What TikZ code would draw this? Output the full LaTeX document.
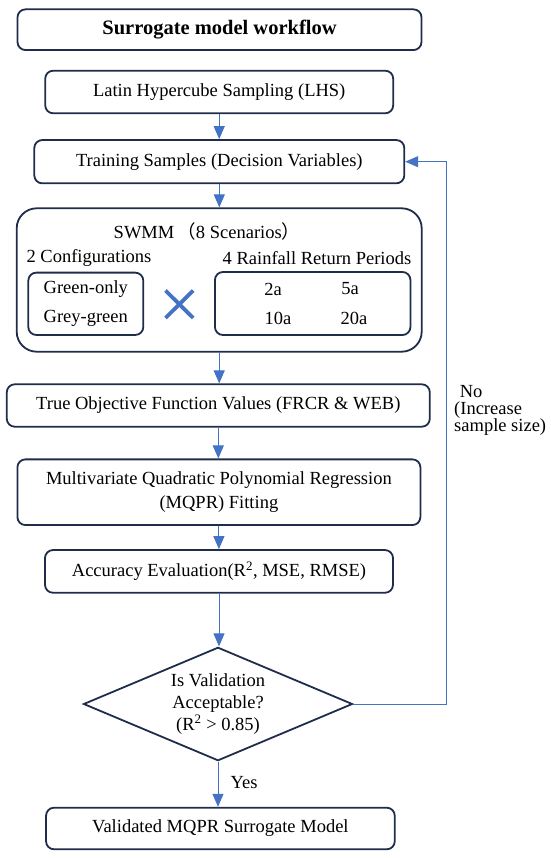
\documentclass[tikz,border=0pt]{standalone}
\usepackage{fontspec}
\setmainfont{Liberation Serif}
\newfontfamily\cjkfont{Noto Sans CJK SC}
\usetikzlibrary{shapes.geometric,arrows.meta}
\definecolor{navy}{RGB}{31,45,75}
\definecolor{flowblue}{RGB}{68,114,196}
\begin{document}
\begin{tikzpicture}[x=1pt,y=-1pt,
  box/.style={draw=navy,line width=1.8pt,rounded corners=8pt,inner sep=0pt,align=center,
    font=\fontsize{18.5}{24.3}\selectfont},
  txt/.style={inner sep=0pt,font=\fontsize{18.5}{22}\selectfont},
  arr/.style={draw=flowblue,line width=1pt,-{Triangle[length=13pt,width=11pt]}}]
\useasboundingbox (0,0) rectangle (550,858);

% main boxes
\node[box,minimum width=404pt,minimum height=40.7pt,font=\fontsize{20.5}{24}\selectfont\bfseries] (title) at (219.5,29.7) {Surrogate model workflow};
\node[box,minimum width=348pt,minimum height=42.6pt] (lhs) at (219.2,92) {Latin Hypercube Sampling (LHS)};
\node[box,minimum width=370pt,minimum height=43.3pt] (train) at (219.3,161.7) {Training Samples (Decision Variables)};

% SWMM block
\node[box,rounded corners=20pt,minimum width=405pt,minimum height=143.4pt] (swmm) at (219.2,280) {};
\node[txt] (swmmlbl) at (207,231) {SWMM\,{\cjkfont （}8 Scenarios{\cjkfont ）}};
\node[txt] (conf) at (89,257.5) {2 Configurations};
\node[txt] (rain) at (317,258) {4 Rainfall Return Periods};
\node[box,minimum width=115pt,minimum height=62.3pt,font=\fontsize{18.5}{29.3}\selectfont] (green) at (85.8,303.8) {Green-only\\Grey-green};
\node[box,minimum width=195.5pt,minimum height=63pt] (periods) at (312.7,303.5) {};
\node[txt] (p2) at (273,289) {2a};
\node[txt] (p5) at (350,289) {5a};
\node[txt] (p10) at (278,318) {10a};
\node[txt] (p20) at (354,318) {20a};
\draw[flowblue,line width=3.8pt] (165.5,290.5) -- (193.2,318);
\draw[flowblue,line width=3.8pt] (165.5,318) -- (193.2,290.5);

\node[box,minimum width=423pt,minimum height=42.4pt] (tofv) at (218.3,405.5) {True Objective Function Values (FRCR \& WEB)};
\node[box,minimum width=403pt,minimum height=65.7pt] (mqpr) at (218.9,492.2) {Multivariate Quadratic Polynomial Regression\\(MQPR) Fitting};
\node[box,minimum width=348pt,minimum height=42.7pt] (acc) at (219,571.4) {Accuracy Evaluation(R\textsuperscript{2}, MSE, RMSE)};
\node[draw=navy,line width=1.8pt,diamond,shape aspect=2.37,minimum width=269pt,minimum height=113.4pt,inner sep=0pt,align=center,
  font=\fontsize{18.5}{21.7}\selectfont] (dia) at (218,704) {Is Validation\\Acceptable?\\(R\textsuperscript{2} > 0.85)};
\node[box,minimum width=348.7pt,minimum height=41.6pt] (final) at (220.4,828.5) {Validated MQPR Surrogate Model};

% labels
\node[txt,anchor=west,align=left,font=\fontsize{18.5}{17.2}\selectfont] (nolbl) at (454,410.5) {\hspace*{0.3em}No\\(Increase\\sample size)};
\node[txt] (yes) at (244,782.7) {Yes};

% connectors
\draw[arr] (lhs.south) -- (lhs.south |- train.north);
\draw[arr] (train.south) -- (train.south |- swmm.north);
\draw[arr] (swmm.south) -- (swmm.south |- tofv.north);
\draw[arr] (tofv.south) -- (tofv.south |- mqpr.north);
\draw[arr] (mqpr.south) -- (mqpr.south |- acc.north);
\draw[arr] (acc.south) -- (acc.south |- dia.north);
\draw[arr] (dia.south) -- (dia.south |- final.north);
\coordinate (fb) at (446,0);
\draw[arr] (dia.east) -- (dia.east -| fb) -- (train.east -| fb) -- (train.east);
\end{tikzpicture}
\end{document}
